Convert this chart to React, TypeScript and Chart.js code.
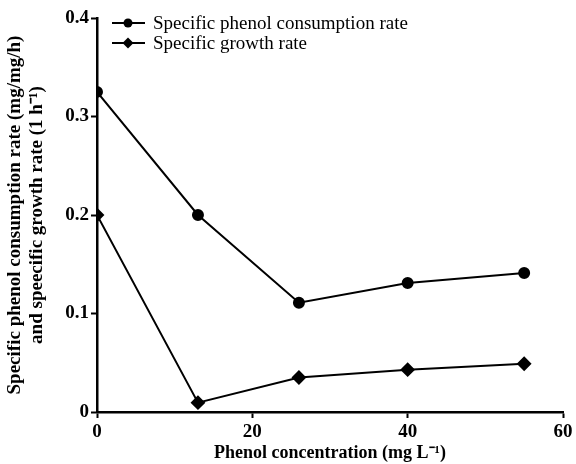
import React, { useEffect, useRef } from "react";
import { Chart, registerables } from "chart.js";

Chart.register(...registerables);

const xValues = [0, 13, 26, 40, 55];
const phenolRate = [0.325, 0.2, 0.111, 0.131, 0.141];
const growthRate = [0.2, 0.0095, 0.035, 0.043, 0.049];
const xTicks = [0, 20, 40, 60];
const yTicks = [0, 0.1, 0.2, 0.3, 0.4];
const seriesNames = ["Specific phenol consumption rate", "Specific growth rate"];
const yTitle = ["Specific phenol consumption rate (mg/mg/h)", "and speecific growth rate (1 h\u207B\u00B9)"];
const xTitle = "Phenol concentration (mg L\u207B\u00B9)";

const FONT = "'Liberation Serif', 'Times New Roman', serif";

const legendPlugin = {
  id: "customLegend",
  afterDraw(chart: any) {
    const ctx = chart.ctx;
    const area = chart.chartArea;
    const x0 = area.left + 15;
    const rows = [area.top + 5, area.top + 25];
    ctx.save();
    chart.data.datasets.forEach((ds: any, i: number) => {
      const y = rows[i];
      ctx.strokeStyle = "#000";
      ctx.lineWidth = 2;
      ctx.beginPath();
      ctx.moveTo(x0, y);
      ctx.lineTo(x0 + 33, y);
      ctx.stroke();
      ctx.fillStyle = "#000";
      const cx = x0 + 16;
      ctx.beginPath();
      if (ds.pointStyle === "rectRot") {
        const r = 5.5;
        ctx.moveTo(cx, y - r);
        ctx.lineTo(cx + r, y);
        ctx.lineTo(cx, y + r);
        ctx.lineTo(cx - r, y);
        ctx.closePath();
      } else {
        ctx.arc(cx, y, 4.5, 0, Math.PI * 2);
      }
      ctx.fill();
      ctx.font = `19px ${FONT}`;
      ctx.textBaseline = "middle";
      ctx.textAlign = "left";
      ctx.fillText(ds.label, x0 + 41, y + 1);
    });
    ctx.restore();
  },
};

export default function App() {
  const ref = useRef<HTMLCanvasElement>(null);
  useEffect(() => {
    document.body.style.margin = "0";
    document.body.style.overflow = "hidden";
    if (!ref.current) return;
    const chart = new Chart(ref.current, {
      type: "scatter",
      data: {
        datasets: [
          {
            label: seriesNames[0],
            data: xValues.map((x, i) => ({ x, y: phenolRate[i] })),
            showLine: true,
            borderColor: "#000",
            backgroundColor: "#000",
            borderWidth: 2,
            pointStyle: "circle",
            pointRadius: 5,
          },
          {
            label: seriesNames[1],
            data: xValues.map((x, i) => ({ x, y: growthRate[i] })),
            showLine: true,
            borderColor: "#000",
            backgroundColor: "#000",
            borderWidth: 2,
            pointStyle: "rectRot",
            pointRadius: 6,
          },
        ],
      },
      options: {
        animation: false,
        responsive: false,
        layout: { padding: { top: 18, right: 13, left: 0, bottom: 0 } },
        plugins: { legend: { display: false }, tooltip: { enabled: false } },
        scales: {
          x: {
            type: "linear",
            min: 0,
            max: 60,
            afterBuildTicks: (s: any) => { s.ticks = xTicks.map((v) => ({ value: v })); },
            afterFit: (s: any) => { s.height = 52; },
            grid: { display: true, drawOnChartArea: false, drawTicks: true, tickLength: 6, tickColor: "#000", tickWidth: 2 },
            border: { display: true, color: "#000", width: 2.5 },
            ticks: { color: "#000", font: { family: FONT, size: 19, weight: "bold" }, padding: 3 },
            title: { display: true, text: xTitle, color: "#000", font: { family: FONT, size: 18, weight: "bold" }, padding: { top: 0, bottom: 0 } },
          },
          y: {
            type: "linear",
            min: 0,
            max: 0.4,
            afterBuildTicks: (s: any) => { s.ticks = yTicks.map((v) => ({ value: v })); },
            afterFit: (s: any) => { s.width = 97; },
            grid: { display: true, drawOnChartArea: false, drawTicks: true, tickLength: 6, tickColor: "#000", tickWidth: 2 },
            border: { display: true, color: "#000", width: 2.5 },
            ticks: { color: "#000", font: { family: FONT, size: 19, weight: "bold" }, padding: 2, callback: (v: any) => (v === 0 ? "0" : Number(v).toFixed(1)) },
            title: { display: true, text: yTitle, color: "#000", font: { family: FONT, size: 19, weight: "bold", lineHeight: 1.15 }, padding: { top: 4, bottom: 2 } },
          },
        },
      } as any,
      plugins: [legendPlugin],
    });
    return () => chart.destroy();
  }, []);
  return (
    <div style={{ width: 576, height: 464, overflow: "hidden" }}>
      <canvas ref={ref} width={576} height={464} style={{ display: "block" }} />
    </div>
  );
}
